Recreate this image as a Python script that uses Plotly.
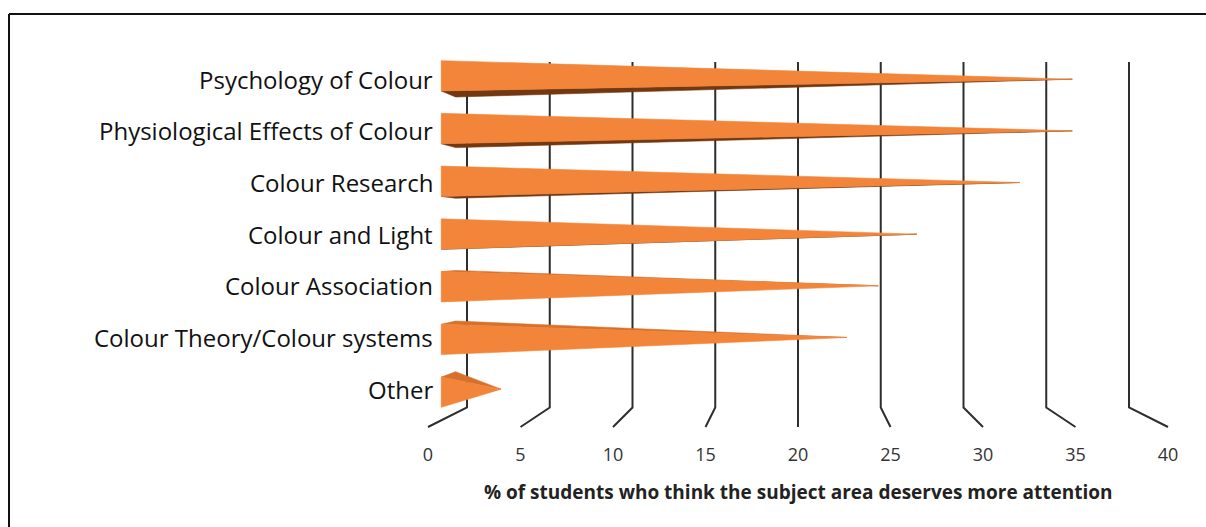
import plotly.graph_objects as go

# ---- data -------------------------------------------------------------
categories = [
    "Other",
    "Colour Theory/Colour systems",
    "Colour Association",
    "Colour and Light",
    "Colour Research",
    "Physiological Effects of Colour",
    "Psychology of Colour",
]
percentages = [3.0, 22.8, 24.6, 26.8, 32.7, 35.7, 35.7]
tick_values = [0, 5, 10, 15, 20, 25, 30, 35, 40]
tick_labels = ["0", "5", "10", "15", "20", "25", "30", "35", "40"]
axis_title = "% of students who think the subject area deserves more attention"

# ---- 3-D view set-up (perspective towards a vanishing point) -----------
W, H = 1206, 527
M_BOTTOM = 85
PLOT_H = H - M_BOTTOM
PX_PER_X = 18.5          # front-plane pixels per percentage point
X0_PX = 428.0            # front-plane pixel of value 0
PX_PER_ROW = 54.7        # front-plane pixels per category row
ROW0_PX = 397.8          # front-plane pixel of the first row centre

VX = 20.0                # value under the vanishing point
VY = (ROW0_PX - 242.0) / PX_PER_ROW   # eye level in row units
S_BACK = 0.8946          # scale of the back wall relative to the front edge
Y_FLOOR = (ROW0_PX - 427.0) / PX_PER_ROW   # floor height (row units)
Y_WALL_TOP = 6.527       # top of the back wall (row units)
BAR_FRONT, BAR_BACK = 0.315, 0.685    # depth slot of the series (0=front, 1=back)
HALF_H = 0.287           # half height of the pyramid base (row units)


def scale(depth):
    return 1.0 / (1.0 + (1.0 / S_BACK - 1.0) * depth)


def project(x, y, s):
    return VX + (x - VX) * s, VY + (y - VY) * s


def signed_area(pts):
    a = 0.0
    for i in range(len(pts)):
        x1, y1 = pts[i]
        x2, y2 = pts[(i + 1) % len(pts)]
        a += x1 * y2 - x2 * y1
    return a / 2.0


s_front = scale(BAR_FRONT)
s_back = scale(BAR_BACK)
s_mid = scale((BAR_FRONT + BAR_BACK) / 2.0)

fig = go.Figure()

# ---- grid: floor lines running back, then up the back wall -------------
gx, gy = [], []
for v in tick_values:
    for (y, s) in [(Y_FLOOR, 1.0), (Y_FLOOR, S_BACK), (Y_WALL_TOP, S_BACK)]:
        px, py = project(v, y, s)
        gx.append(px)
        gy.append(py)
    gx.append(None)
    gy.append(None)
fig.add_trace(go.Scatter(x=gx, y=gy, mode="lines",
                         line=dict(color="#2e2e2e", width=2),
                         hoverinfo="skip", showlegend=False))

# ---- pyramids ---------------------------------------------------------
faces = {"front": ([], []), "top": ([], []), "bottom": ([], [])}
for r, val in enumerate(percentages):
    yt, yb = r + HALF_H, r - HALF_H
    A = project(0, yt, s_front)
    B = project(0, yb, s_front)
    C = project(0, yb, s_back)
    D = project(0, yt, s_back)
    P = project(val, r, s_mid)
    for name, poly in [("front", [A, B, P]), ("bottom", [B, C, P]), ("top", [D, A, P])]:
        if signed_area(poly) > 0:
            xs, ys = faces[name]
            xs.extend([p[0] for p in poly] + [poly[0][0], None])
            ys.extend([p[1] for p in poly] + [poly[0][1], None])

face_colours = {"bottom": "#733811", "top": "#d6702c", "front": "#f28539"}
for name in ["bottom", "top", "front"]:
    xs, ys = faces[name]
    fig.add_trace(go.Scatter(x=xs, y=ys, mode="lines", fill="toself",
                             fillcolor=face_colours[name],
                             line=dict(color=face_colours[name], width=0.6),
                             hoverinfo="skip", showlegend=False))

# ---- category labels --------------------------------------------------
for r, cat in enumerate(categories):
    _, ly = project(0, r, s_mid)
    fig.add_annotation(x=(435 - X0_PX) / PX_PER_X, y=ly, text=cat,
                       xref="x", yref="y", xanchor="right", yanchor="middle",
                       showarrow=False,
                       font=dict(family="Open Sans", size=24, color="#111111"))

# ---- axis title -------------------------------------------------------
fig.add_annotation(x=20, y=(PLOT_H - 492) / PLOT_H, xref="x", yref="paper",
                   text="<b>" + axis_title + "</b>", showarrow=False,
                   xanchor="center", yanchor="middle",
                   font=dict(family="Open Sans", size=19, color="#222222"))

# ---- outer frame (left and top edges) ----------------------------------
fx = 9 / W
fy = (PLOT_H - 14) / PLOT_H
fig.add_shape(type="line", xref="paper", yref="paper", x0=fx, x1=fx,
              y0=fy, y1=(PLOT_H - 540) / PLOT_H, line=dict(color="#111", width=2))
fig.add_shape(type="line", xref="paper", yref="paper", x0=fx, x1=1.02,
              y0=fy, y1=fy, line=dict(color="#111", width=2))

fig.update_layout(
    width=W, height=H,
    margin=dict(l=0, r=0, t=0, b=M_BOTTOM),
    paper_bgcolor="white", plot_bgcolor="white",
    xaxis=dict(range=[-X0_PX / PX_PER_X, (W - X0_PX) / PX_PER_X],
               tickvals=tick_values, ticktext=tick_labels,
               showgrid=False, zeroline=False, showline=False, ticks="",
               tickfont=dict(family="Open Sans", size=18, color="#333")),
    yaxis=dict(range=[(ROW0_PX - PLOT_H) / PX_PER_ROW, ROW0_PX / PX_PER_ROW],
               showgrid=False, zeroline=False, showline=False,
               showticklabels=False, ticks=""),
)

fig.write_html("out.html")
